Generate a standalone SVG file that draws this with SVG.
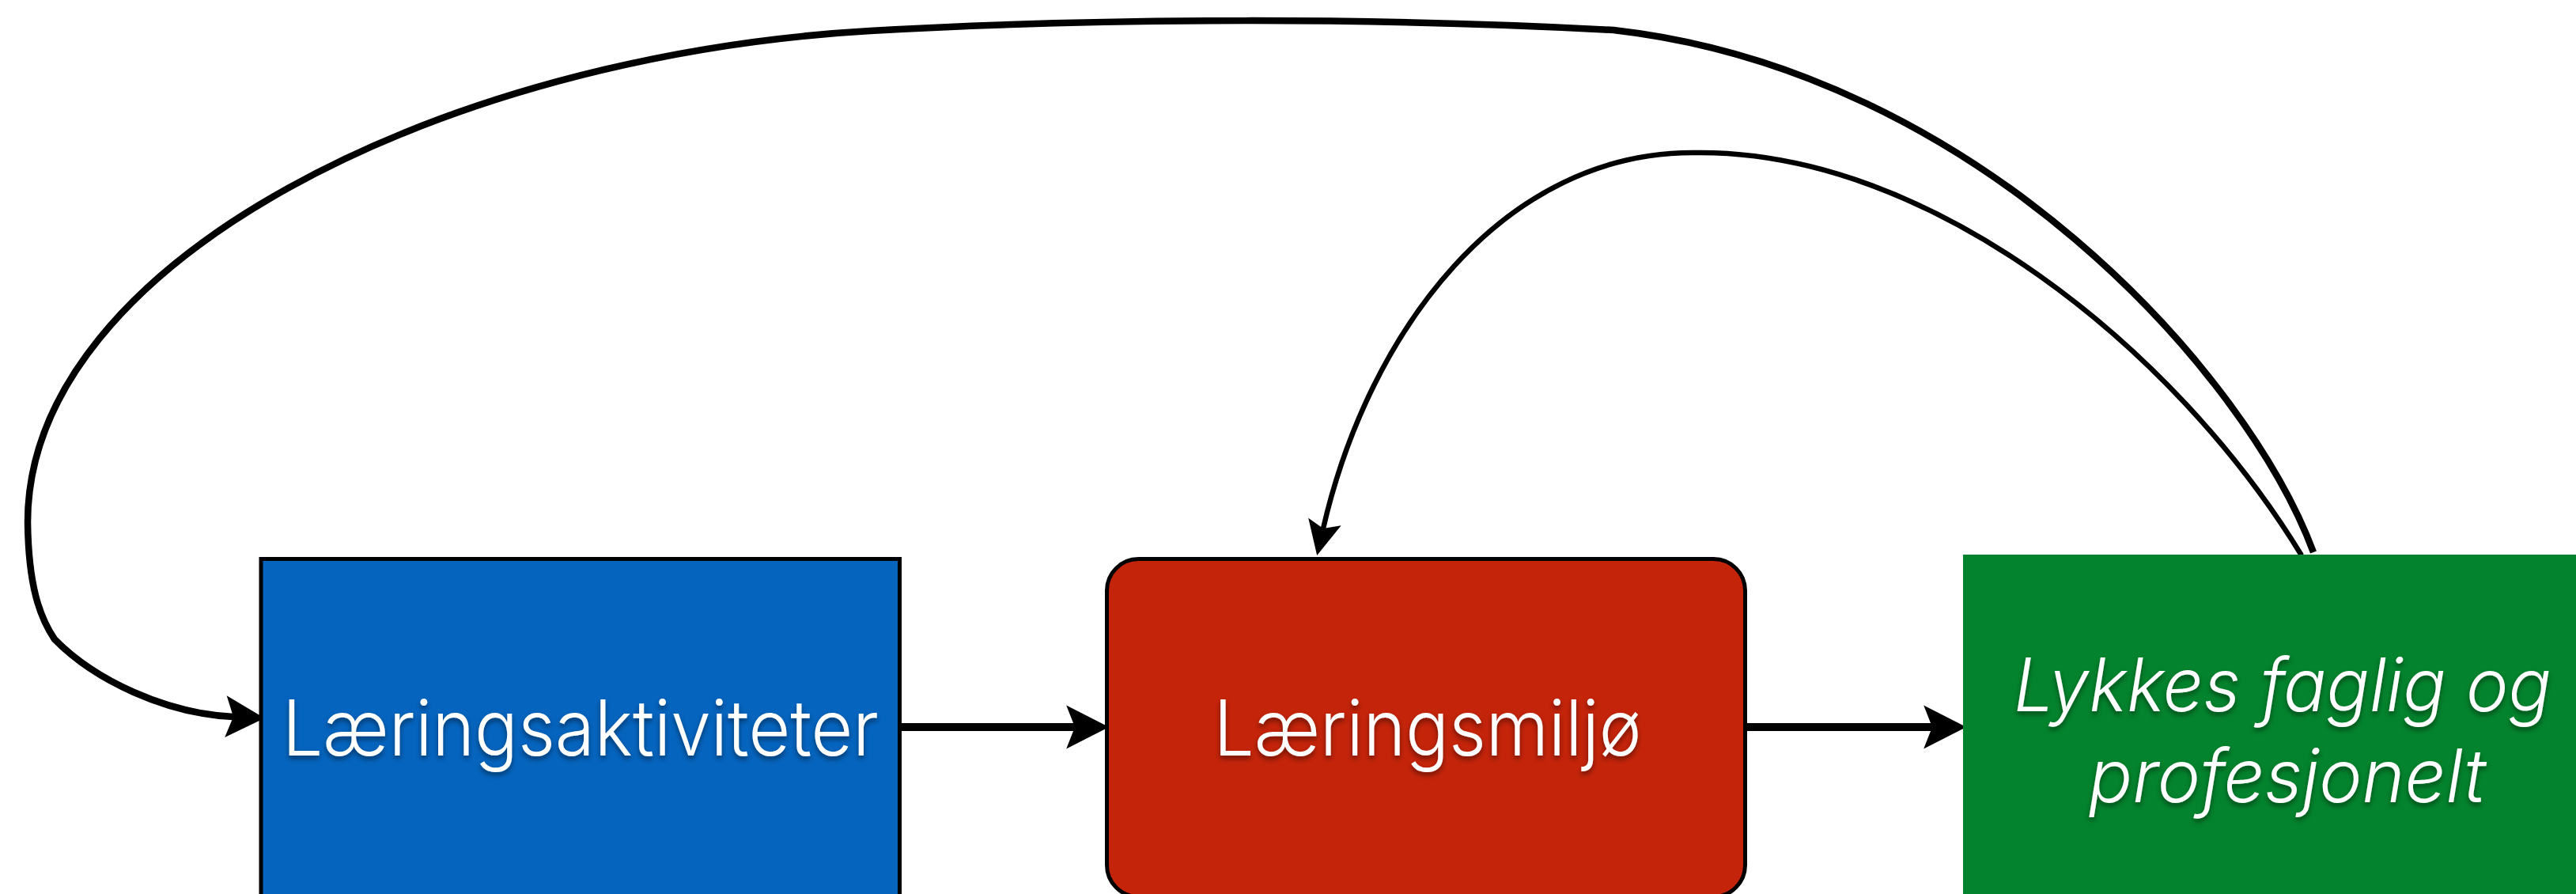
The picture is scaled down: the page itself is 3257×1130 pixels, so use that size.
<svg xmlns="http://www.w3.org/2000/svg" width="3257" height="1130" viewBox="0 0 3257 1130">
<style>
.lbl { font-family: "Inter", "Roboto", "Liberation Sans", sans-serif; font-weight: 300; font-size: 98px; fill: #ffffff; text-anchor: middle; }
.it { font-style: italic; font-size: 93px; }
.box { stroke: #000000; stroke-width: 5; }
.conn { fill: none; stroke: #000000; }
</style>
<defs>
<filter id="sh" x="-5%" y="-30%" width="110%" height="160%">
<feDropShadow dx="0" dy="4" stdDeviation="3" flood-color="#000000" flood-opacity="0.45"/>
</filter>
<marker id="ah9" markerUnits="userSpaceOnUse" markerWidth="60" markerHeight="60" viewBox="-10 -25 50 50" refX="0" refY="0" orient="auto" overflow="visible">
<path d="M0,0 L-9,-23 L36,0 L-9,23 Z" fill="#000000"/>
</marker>
<marker id="ah8" markerUnits="userSpaceOnUse" markerWidth="60" markerHeight="60" viewBox="-10 -25 50 50" refX="0" refY="0" orient="auto" overflow="visible">
<path d="M0,0 L-8,-22 L33,0 L-8,22 Z" fill="#000000"/>
</marker>
<marker id="ah6" markerUnits="userSpaceOnUse" markerWidth="50" markerHeight="50" viewBox="-10 -20 40 40" refX="0" refY="0" orient="auto" overflow="visible">
<path d="M0,0 L-7,-17 L28,0 L-7,17 Z" fill="#000000"/>
</marker>
</defs>
<rect width="3257" height="1130" fill="#ffffff"/>
<g id="connectors">
<path class="conn" stroke-width="10" d="M1140,919 L1359,919" marker-end="url(#ah9)"/>
<path class="conn" stroke-width="10" d="M2209,919 L2443,919" marker-end="url(#ah9)"/>
<path class="conn" stroke-width="8.5" d="M2925,698 C2840,470 2500,90 2040,38 C1750,22 1400,22 1100,39 C560,70 35,330 35,660 C36,740 50,780 69,808 C120,860 210,902 295,906" marker-end="url(#ah8)"/>
<path class="conn" stroke-width="6.5" d="M2910,702 C2750,440 2440,190 2145,193 C1900,190 1730,420 1673,668" marker-end="url(#ah6)"/>
</g>
<g id="node-laeringsaktiviteter">
<rect class="box" x="330" y="706.5" width="807.5" height="500" fill="#0564BE"/>
<text class="lbl" x="734" y="955" textLength="754" lengthAdjust="spacingAndGlyphs" filter="url(#sh)">Læringsaktiviteter</text>
</g>
<g id="node-laeringsmiljo">
<rect class="box" x="1399.5" y="706.5" width="807" height="427" rx="40" ry="40" fill="#C4240A"/>
<text class="lbl" x="1805" y="955" textLength="541" lengthAdjust="spacingAndGlyphs" filter="url(#sh)">Læringsmiljø</text>
</g>
<g id="node-lykkes">
<rect x="2482" y="701" width="780" height="440" fill="#03832D"/>
<text class="lbl it" x="2886" y="899" textLength="680" lengthAdjust="spacingAndGlyphs" filter="url(#sh)">Lykkes faglig og</text>
<text class="lbl it" x="2892" y="1014" textLength="502" lengthAdjust="spacingAndGlyphs" filter="url(#sh)">profesjonelt</text>
</g>
</svg>
